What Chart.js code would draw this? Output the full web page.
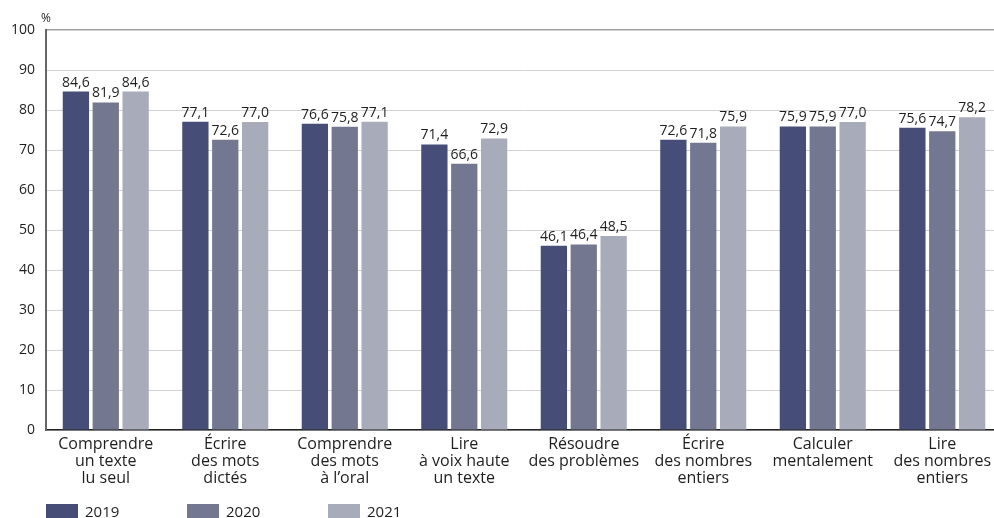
<!DOCTYPE html>
<html lang="fr">
<head>
    <meta charset="UTF-8">
    <script src="https://cdn.jsdelivr.net/npm/chart.js"></script>
    <title>Réussite par domaine</title>
    <style>
        html, body {
            margin: 0;
            padding: 0;
            background: #fff;
            overflow: hidden;
            font-family: "Open Sans", sans-serif;
        }
        /* un peu plus large que la fenêtre : le dernier groupe déborde à droite */
        #wrap {
            position: relative;
            width: 1002px;
            height: 518px;
        }
        #legend {
            position: absolute;
            left: 46px;
            top: 501px;
            display: flex;
        }
        .item {
            width: 141px;
            display: flex;
            align-items: center;
            font-size: 15px;
            color: #1e1e1e;
        }
        .swatch {
            width: 32px;
            height: 15px;
            margin-right: 7px;
        }
    </style>
</head>
<body>
    <div id="wrap">
        <canvas id="chart"></canvas>
        <div id="legend"></div>
    </div>

    <script>
        const categories = [
            ['Comprendre', 'un texte', 'lu seul'],
            ['Écrire', 'des mots', 'dictés'],
            ['Comprendre', 'des mots', 'à l’oral'],
            ['Lire', 'à voix haute', 'un texte'],
            ['Résoudre', 'des problèmes'],
            ['Écrire', 'des nombres', 'entiers'],
            ['Calculer', 'mentalement'],
            ['Lire', 'des nombres', 'entiers']
        ];
        const years = ['2019', '2020', '2021'];
        const values2019 = [84.6, 77.1, 76.6, 71.4, 46.1, 72.6, 75.9, 75.6];
        const values2020 = [81.9, 72.6, 75.8, 66.6, 46.4, 71.8, 75.9, 74.7];
        const values2021 = [84.6, 77.0, 77.1, 72.9, 48.5, 75.9, 77.0, 78.2];
        const yTicks = [0, 10, 20, 30, 40, 50, 60, 70, 80, 90, 100];

        const colors = ['#464e78', '#73778f', '#a8abba'];
        const FONT = 'Open Sans';

        // étiquettes de valeurs au-dessus des barres
        const valueLabels = {
            id: 'valueLabels',
            afterDatasetsDraw(chart) {
                const ctx = chart.ctx;
                ctx.save();
                ctx.font = '14px "' + FONT + '"';
                ctx.fillStyle = '#1e1e1e';
                ctx.textAlign = 'center';
                ctx.textBaseline = 'alphabetic';
                chart.data.datasets.forEach((ds, i) => {
                    chart.getDatasetMeta(i).data.forEach((bar, j) => {
                        const txt = ds.data[j].toFixed(1).replace('.', ',');
                        ctx.fillText(txt, bar.x, bar.y - 5);
                    });
                });
                ctx.restore();
            }
        };

        // unité au-dessus de l'axe vertical
        const unitLabel = {
            id: 'unitLabel',
            afterDraw(chart) {
                const y = chart.scales.y;
                const ctx = chart.ctx;
                ctx.save();
                ctx.font = '12px "' + FONT + '"';
                ctx.fillStyle = '#1e1e1e';
                ctx.textAlign = 'left';
                ctx.textBaseline = 'alphabetic';
                ctx.fillText('%', y.right - 5, y.top - 8);
                ctx.restore();
            }
        };

        const chart = new Chart(document.getElementById('chart'), {
            type: 'bar',
            data: {
                labels: categories,
                datasets: years.map((yr, i) => ({
                    label: yr,
                    data: [values2019, values2020, values2021][i],
                    backgroundColor: colors[i],
                    categoryPercentage: 0.75,
                    barPercentage: 0.88
                }))
            },
            options: {
                responsive: true,
                maintainAspectRatio: false,
                animation: false,
                layout: { padding: { top: 30, left: 0, right: 0, bottom: 25 } },
                plugins: {
                    tooltip: { enabled: false },
                    legend: { display: false }
                },
                scales: {
                    x: {
                        grid: { display: false, drawTicks: false },
                        border: { display: true, color: '#222', width: 1.5 },
                        ticks: {
                            color: '#1e1e1e',
                            font: { family: FONT, size: 16, lineHeight: 1.06 },
                            maxRotation: 0,
                            autoSkip: false,
                            padding: 6
                        }
                    },
                    y: {
                        min: 0,
                        max: 100,
                        afterBuildTicks(scale) {
                            scale.ticks = yTicks.map(v => ({ value: v }));
                        },
                        grid: {
                            drawTicks: false,
                            color: ctx => ctx.tick && ctx.tick.value === 100 ? '#a0a0a0' : '#d2d2d2',
                            lineWidth: ctx => ctx.tick && ctx.tick.value === 100 ? 1.5 : 1
                        },
                        border: { display: true, color: '#666', width: 2 },
                        ticks: {
                            color: '#1e1e1e',
                            padding: 11,
                            font: { family: FONT, size: 14 }
                        }
                    }
                }
            },
            plugins: [valueLabels, unitLabel]
        });

        // légende en HTML, alignée à gauche sous le graphique
        const legend = document.getElementById('legend');
        years.forEach((yr, i) => {
            const item = document.createElement('div');
            item.className = 'item';
            const sw = document.createElement('span');
            sw.className = 'swatch';
            sw.style.background = colors[i];
            item.appendChild(sw);
            item.appendChild(document.createTextNode(yr));
            legend.appendChild(item);
        });
    </script>
</body>
</html>
